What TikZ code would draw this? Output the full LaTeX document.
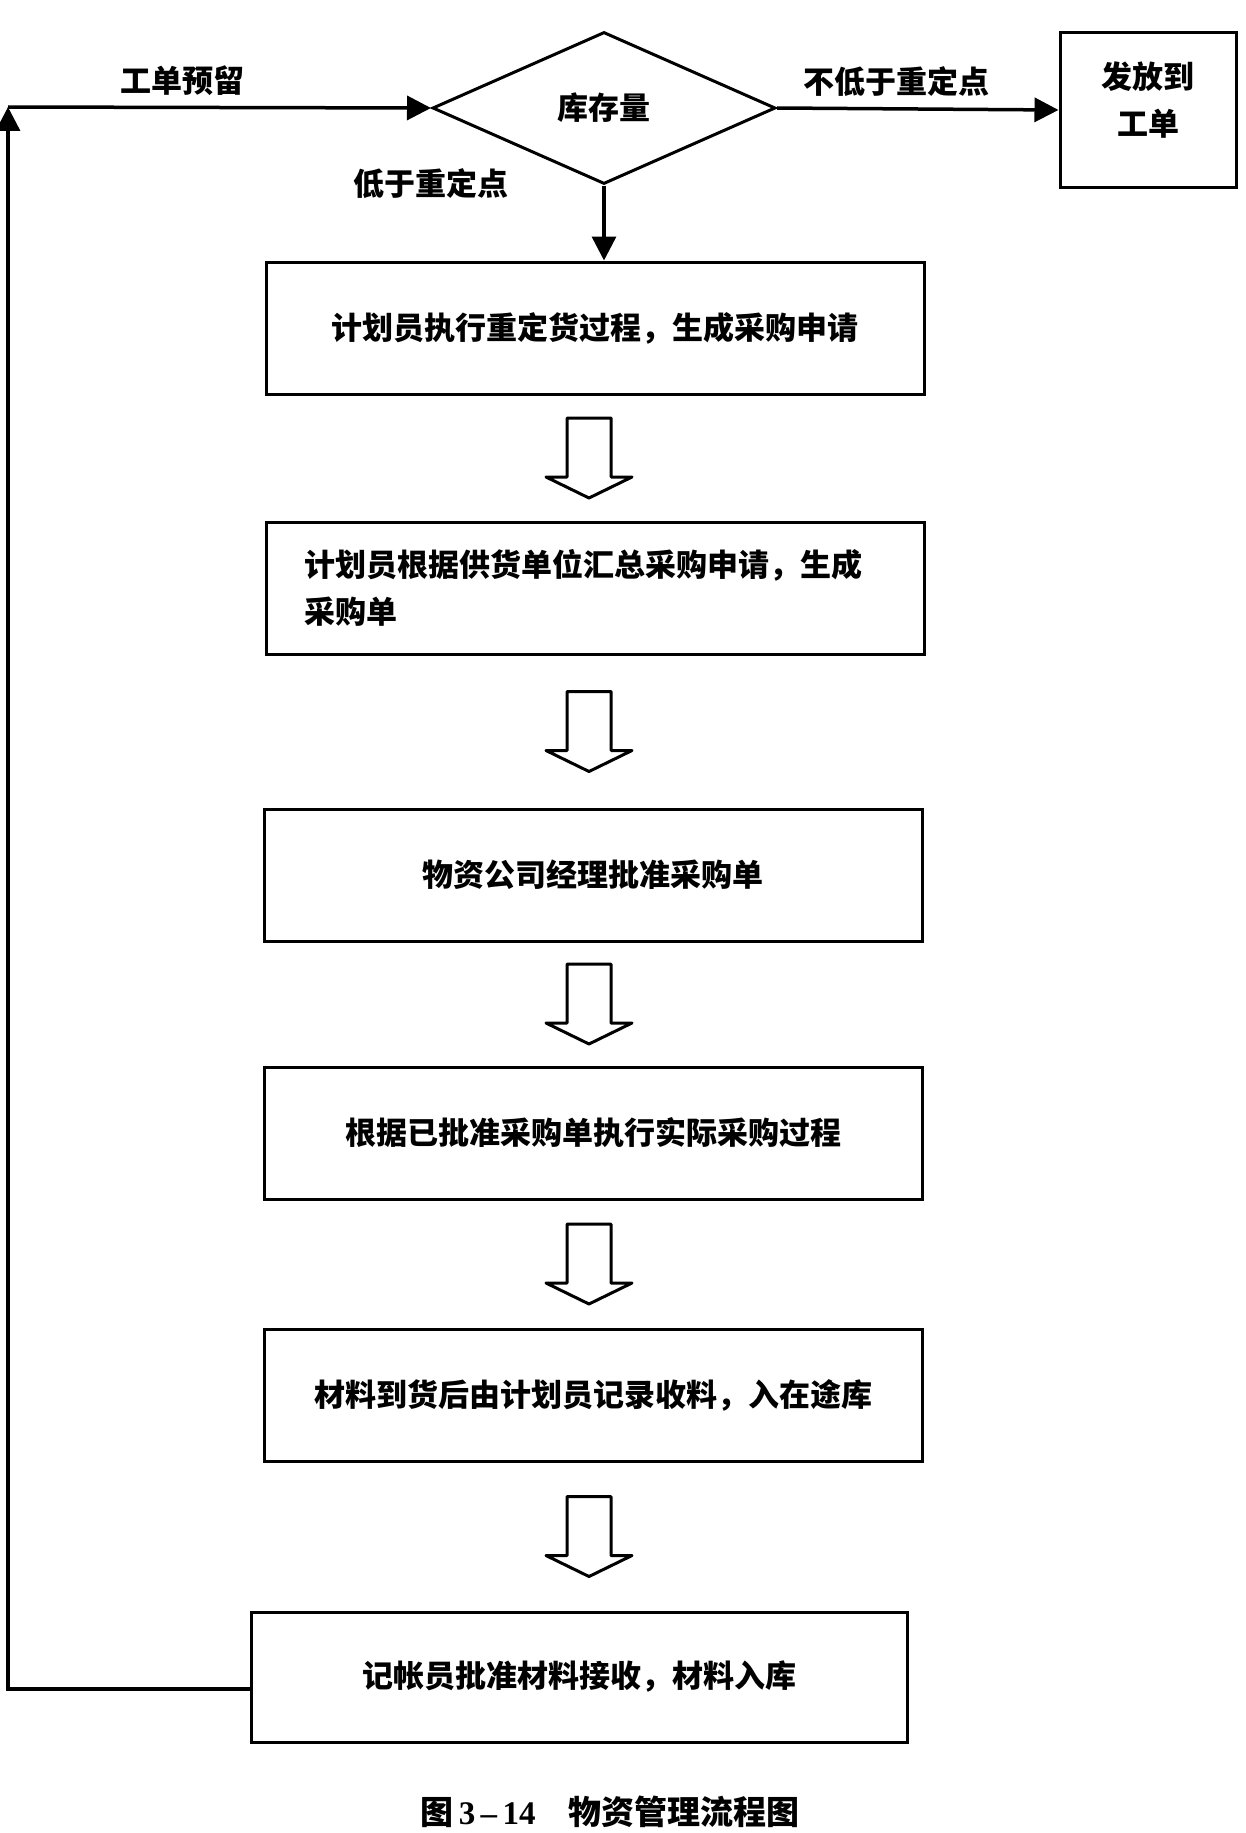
\documentclass[tikz,border=0pt]{standalone}
\usepackage{fontspec}
\setmainfont{Liberation Serif}
\newfontfamily\cjk{Noto Sans CJK SC}
\usetikzlibrary{shapes.geometric,arrows.meta,calc}
\begin{document}
\begin{tikzpicture}[x=1pt,y=-1pt,font=\cjk\bfseries\fontsize{31}{47}\selectfont]
	\tikzstyle{step box}=[draw,line width=3pt,minimum width=658pt,minimum height=132pt,inner sep=0pt]
	\tikzstyle{flow}=[line width=3.5pt,-{Triangle[length=24pt,width=24pt]}]
	\tikzset{hollowarrow/.pic={
		\draw[line width=3pt,line join=round](-22,-40)--(-22,19)--(-43,19)--(0,40)--(43,19)--(22,19)--(22,-40)--cycle;}}
	\useasboundingbox(0,0)rectangle(1245,1833);
	\node(stock)[diamond,draw,line width=3pt,minimum width=343pt,minimum height=152pt,inner sep=0pt]at(604,108){库存量};
	\node(issue)[draw,line width=3pt,minimum width=176pt,minimum height=155pt,align=center]at(1148,110)
		{发放到\\工单\\[-25pt]};
	\node(b1)[step box]at(595,328){计划员执行重定货过程，生成采购申请};
	\node(b2)[step box,text width=582pt,inner xsep=38pt,align=left]at(595,588)
		{计划员根据供货单位汇总采购申请，生成\\采购单};
	\node(b3)[step box]at(593,875){物资公司经理批准采购单};
	\node(b4)[step box]at(593,1133){根据已批准采购单执行实际采购过程};
	\node(b5)[step box]at(593,1395){材料到货后由计划员记录收料，入在途库};
	\node(b6)[step box,minimum width=656pt,minimum height=130pt]at(579,1677){记帐员批准材料接收，材料入库};
	\coordinate(corner)at(8,107);
	\coordinate(spine)at(589,0);
	% decision branches
	\draw[flow](stock.east)--(issue.west);
	\draw[flow](stock.south)--(stock.south|-b1.north);
	\node(hi)at(896,82){不低于重定点};
	\node(lo)at(431,184){低于重定点};
	% hollow arrows between steps
	\foreach \a/\b in {b1/b2,b2/b3,b3/b4,b4/b5,b5/b6}{
		\coordinate(mid)at($(\a.south)!.5!(\b.north)$);
		\pic at(spine|-mid){hollowarrow};}
	% return loop
	\draw[flow]([yshift=-12pt]b6.west)-|(corner);
	\draw[flow](corner)--(stock.west);
	\node(keep)at(182,81){工单预留};
	\node(caption)[font=\cjk\bfseries\fontsize{33}{40}\selectfont]at(610,1812)
		{图\,{\rmfamily\bfseries 3\,–\,14}\quad 物资管理流程图};
\end{tikzpicture}
\end{document}
